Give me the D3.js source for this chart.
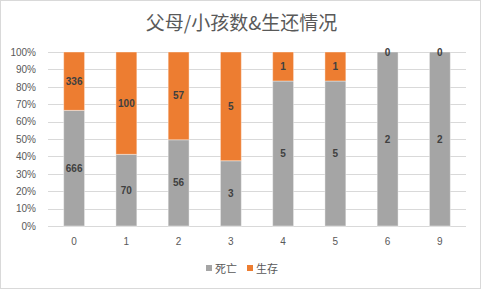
<!DOCTYPE html>
<html>
<head>
<meta charset="utf-8">
<script src="https://cdn.jsdelivr.net/npm/d3@7"></script>
<style>
  body { margin: 0; background: #fff; }
  svg { display: block; font-family: "Noto Sans CJK SC", "Liberation Sans", sans-serif; }
</style>
</head>
<body>
<div id="chart"></div>
<script>
// chart data
const categories = ["0", "1", "2", "3", "4", "5", "6", "9"];
const died = [666, 70, 56, 3, 5, 5, 2, 2];
const survived = [336, 100, 57, 5, 1, 1, 0, 0];
const seriesNames = ["死亡", "生存"];
const yTicks = [0, 0.1, 0.2, 0.3, 0.4, 0.5, 0.6, 0.7, 0.8, 0.9, 1];

const W = 481, H = 289;
const margin = { top: 52, right: 15, bottom: 63, left: 48 };
const width = W - margin.left - margin.right,
    height = H - margin.top - margin.bottom;
const colors = ["#a5a5a5", "#ed7d31"];

const svg = d3.select("#chart").append("svg")
    .attr("width", W)
    .attr("height", H);

// outer border
svg.append("rect")
    .attr("x", 0.5).attr("y", 0.5)
    .attr("width", W - 1).attr("height", H - 1)
    .attr("fill", "#fff")
    .attr("stroke", "#d9d9d9");

svg.append("text")
    .attr("x", W / 2 + 1).attr("y", 30)
    .attr("text-anchor", "middle")
    .attr("fill", "#595959")
    .attr("font-size", 19)
    .text("父母/小孩数&生还情况");

const g = svg.append("g")
    .attr("transform", `translate(${margin.left},${margin.top})`);

const x = d3.scaleBand()
    .domain(categories)
    .range([0, width])
    .paddingInner(0.6)
    .paddingOuter(0.3);

const y = d3.scaleLinear()
    .domain([0, 1])
    .range([height, 0]);

// gridlines
g.selectAll(".grid")
    .data(yTicks)
    .enter().append("line")
    .attr("x1", 0).attr("x2", width)
    .attr("y1", d => Math.round(y(d)) + 0.5)
    .attr("y2", d => Math.round(y(d)) + 0.5)
    .attr("stroke", "#d9d9d9");

const yAxis = g.append("g")
    .call(d3.axisLeft(y).tickValues(yTicks).tickFormat(d3.format(".0%")).tickSize(0).tickPadding(12));
yAxis.select(".domain").remove();
yAxis.selectAll("text")
    .attr("fill", "#595959")
    .attr("font-size", 10)
    .attr("font-family", "Liberation Sans, sans-serif");

const xAxis = g.append("g")
    .attr("transform", `translate(0,${height})`)
    .call(d3.axisBottom(x).tickSize(0).tickPadding(12));
xAxis.select(".domain").remove();
xAxis.selectAll("text")
    .attr("fill", "#595959")
    .attr("font-size", 10)
    .attr("font-family", "Liberation Sans, sans-serif");

// stacked 100% data
const rows = categories.map((c, i) => ({ cat: c, 0: died[i], 1: survived[i] }));
const stack = d3.stack().keys([0, 1]).offset(d3.stackOffsetExpand);
const layers = stack(rows);

layers.forEach((layer, k) => {
    const lg = g.append("g");
    lg.selectAll("rect")
        .data(layer)
        .enter().append("rect")
        .attr("x", d => x(d.data.cat))
        .attr("y", d => y(d[1]))
        .attr("width", x.bandwidth())
        .attr("height", d => y(d[0]) - y(d[1]))
        .attr("fill", colors[k])
        .attr("stroke", "#ffffff")
        .attr("stroke-opacity", 0.4)
        .attr("stroke-width", 1);
    lg.selectAll("text")
        .data(layer)
        .enter().append("text")
        .attr("x", d => x(d.data.cat) + x.bandwidth() / 2)
        .attr("y", d => (y(d[0]) + y(d[1])) / 2)
        .attr("dy", "0.35em")
        .attr("text-anchor", "middle")
        .attr("fill", "#404040")
        .attr("font-size", 10)
        .attr("font-weight", "bold")
        .attr("font-family", "Liberation Sans, sans-serif")
        .text(d => d.data[k]);
});

// legend
const legend = svg.append("g").attr("transform", "translate(206,269)");
const items = [{ x: 0, name: seriesNames[0], c: colors[0] }, { x: 41, name: seriesNames[1], c: colors[1] }];
items.forEach(it => {
    legend.append("rect")
        .attr("x", it.x).attr("y", -4)
        .attr("width", 6).attr("height", 6)
        .attr("fill", it.c);
    legend.append("text")
        .attr("x", it.x + 9).attr("y", 0)
        .attr("dy", "0.35em")
        .attr("fill", "#595959")
        .attr("font-size", 11)
        .text(it.name);
});
</script>
</body>
</html>
